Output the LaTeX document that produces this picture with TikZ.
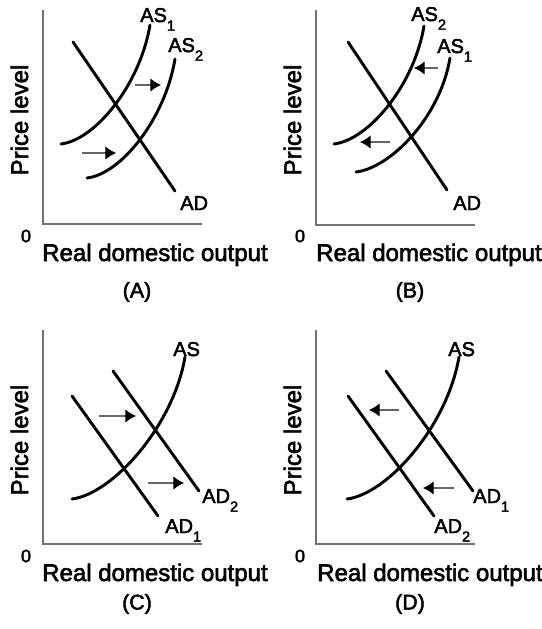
\documentclass[tikz,border=0pt]{standalone}
\usepackage{fontspec}
\setmainfont{Liberation Sans}[AutoFakeBold=2.4]
\usetikzlibrary{arrows.meta}
\newcommand{\lsub}[1]{\raisebox{-6.5pt}{\fontsize{11}{12}\selectfont #1}}
\begin{document}
\begin{tikzpicture}[x=0.75pt,y=-0.75pt,
  axisline/.style={draw=black!55,line width=0.9pt},
  curveline/.style={draw=black,line width=2.2pt,line cap=round},
  shiftarrow/.style={draw=black!60,line width=0.8pt,-{Latex[length=8pt,width=10pt,color=black]}},
  curvelabel/.style={anchor=base west,inner sep=0pt,font=\bfseries\fontsize{15}{17}\selectfont},
  axislabel/.style={anchor=base west,inner sep=0pt,font=\bfseries\fontsize{18}{20}\selectfont},
  ylabel/.style={anchor=base,rotate=90,inner sep=0pt,font=\bfseries\fontsize{18}{20}\selectfont},
  zerolabel/.style={inner sep=0pt,font=\bfseries\fontsize{13.5}{15}\selectfont},
  panellabel/.style={inner sep=0pt,font=\bfseries\fontsize{16}{18}\selectfont}]
\useasboundingbox (0,0) rectangle (542,629);

% ---------------- Panel A ----------------
\coordinate (Ay) at (43,10); \coordinate (Ao) at (43,224); \coordinate (Ax) at (202,224);
\draw[axisline] (Ay) -- (Ao) -- (Ax);
\coordinate (AADs) at (73,42); \coordinate (AADe) at (175,191);
\draw[curveline] (AADs) -- (AADe);
\coordinate (AS1s) at (61,144); \coordinate (AS1e) at (150,25);
\draw[curveline] (AS1s) .. controls +(34,-4) and +(-10,60) .. (AS1e);
\coordinate (AS2s) at (87,178); \coordinate (AS2e) at (175,59);
\draw[curveline] (AS2s) .. controls +(34,-4) and +(-10,60) .. (AS2e);
\coordinate (Aa1s) at (135,85); \coordinate (Aa1e) at (161,85);
\draw[shiftarrow] (Aa1s) -- (Aa1e);
\coordinate (Aa2s) at (82,153); \coordinate (Aa2e) at (116,153);
\draw[shiftarrow] (Aa2s) -- (Aa2e);
\node[curvelabel] (AlAS1) at (140,22) {AS\lsub{1}};
\node[curvelabel] (AlAS2) at (168,52) {AS\lsub{2}};
\node[curvelabel] (AlAD) at (180,210) {AD};
\node[zerolabel] (Azero) at (26,236) {0};
\node[axislabel] (Axl) at (42,261) {Real domestic output};
\node[ylabel] (Ayl) at (28,120) {Price level};
\node[panellabel] (Apl) at (137,292) {(A)};

% ---------------- Panel B ----------------
\coordinate (By) at (316,10); \coordinate (Bo) at (316,225); \coordinate (Bx) at (475,225);
\draw[axisline] (By) -- (Bo) -- (Bx);
\coordinate (BADs) at (348,42); \coordinate (BADe) at (447,190);
\draw[curveline] (BADs) -- (BADe);
\coordinate (BS2s) at (334,144); \coordinate (BS2e) at (424,26);
\draw[curveline] (BS2s) .. controls +(34,-4) and +(-10,60) .. (BS2e);
\coordinate (BS1s) at (356,172); \coordinate (BS1e) at (450,58);
\draw[curveline] (BS1s) .. controls +(34,-4) and +(-10,60) .. (BS1e);
\coordinate (Ba1s) at (438,68); \coordinate (Ba1e) at (414,68);
\draw[shiftarrow] (Ba1s) -- (Ba1e);
\coordinate (Ba2s) at (390,142); \coordinate (Ba2e) at (360,142);
\draw[shiftarrow] (Ba2s) -- (Ba2e);
\node[curvelabel] (BlAS2) at (411,21) {AS\lsub{2}};
\node[curvelabel] (BlAS1) at (437,53) {AS\lsub{1}};
\node[curvelabel] (BlAD) at (453,210) {AD};
\node[zerolabel] (Bzero) at (300,236) {0};
\node[axislabel] (Bxl) at (316,261) {Real domestic output};
\node[ylabel] (Byl) at (301,120) {Price level};
\node[panellabel] (Bpl) at (410,292) {(B)};

% ---------------- Panel C ----------------
\coordinate (Cy) at (43,330); \coordinate (Co) at (43,544); \coordinate (Cx) at (202,544);
\draw[axisline] (Cy) -- (Co) -- (Cx);
\coordinate (CASs) at (72,499); \coordinate (CASe) at (185,357);
\draw[curveline] (CASs) .. controls +(40,-5) and +(-12,70) .. (CASe);
\coordinate (CD1s) at (72,396); \coordinate (CD1e) at (158,516);
\draw[curveline] (CD1s) -- (CD1e);
\coordinate (CD2s) at (113,371); \coordinate (CD2e) at (199,491);
\draw[curveline] (CD2s) -- (CD2e);
\coordinate (Ca1s) at (99,416); \coordinate (Ca1e) at (136,416);
\draw[shiftarrow] (Ca1s) -- (Ca1e);
\coordinate (Ca2s) at (148,483); \coordinate (Ca2e) at (184,483);
\draw[shiftarrow] (Ca2s) -- (Ca2e);
\node[curvelabel] (ClAS) at (173,356) {AS};
\node[curvelabel] (ClAD2) at (202,503) {AD\lsub{2}};
\node[curvelabel] (ClAD1) at (165,533) {AD\lsub{1}};
\node[zerolabel] (Czero) at (26,556) {0};
\node[axislabel] (Cxl) at (42,581) {Real domestic output};
\node[ylabel] (Cyl) at (28,440) {Price level};
\node[panellabel] (Cpl) at (137,604) {(C)};

% ---------------- Panel D ----------------
\coordinate (Dy) at (316,330); \coordinate (Do) at (316,544); \coordinate (Dx) at (475,544);
\draw[axisline] (Dy) -- (Do) -- (Dx);
\coordinate (DASs) at (347,499); \coordinate (DASe) at (459,357);
\draw[curveline] (DASs) .. controls +(40,-5) and +(-12,70) .. (DASe);
\coordinate (DD2s) at (348,396); \coordinate (DD2e) at (434,516);
\draw[curveline] (DD2s) -- (DD2e);
\coordinate (DD1s) at (386,371); \coordinate (DD1e) at (473,491);
\draw[curveline] (DD1s) -- (DD1e);
\coordinate (Da1s) at (399,410); \coordinate (Da1e) at (369,410);
\draw[shiftarrow] (Da1s) -- (Da1e);
\coordinate (Da2s) at (454,488); \coordinate (Da2e) at (423,488);
\draw[shiftarrow] (Da2s) -- (Da2e);
\node[curvelabel] (DlAS) at (448,356) {AS};
\node[curvelabel] (DlAD1) at (473,503) {AD\lsub{1}};
\node[curvelabel] (DlAD2) at (434,533) {AD\lsub{2}};
\node[zerolabel] (Dzero) at (300,556) {0};
\node[axislabel] (Dxl) at (317,581) {Real domestic output};
\node[ylabel] (Dyl) at (301,440) {Price level};
\node[panellabel] (Dpl) at (410,604) {(D)};
\end{tikzpicture}
\end{document}
